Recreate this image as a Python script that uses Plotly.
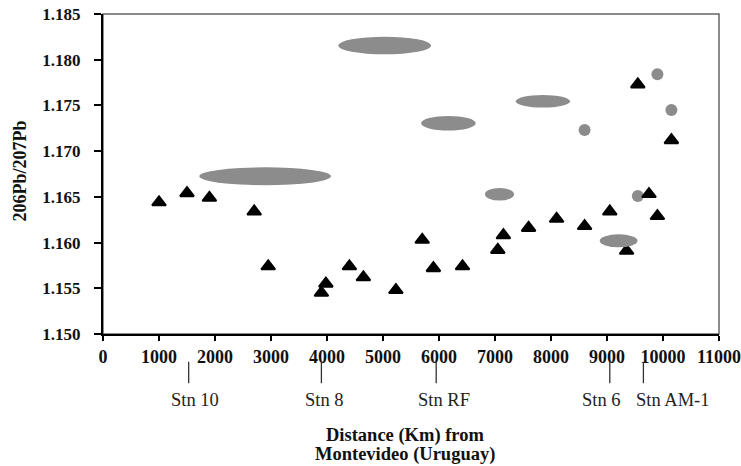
import plotly.graph_objects as go

# ---- data ----
tri_x = [1000, 1500, 1900, 2700, 2950, 3900, 3980, 4400, 4650, 5230, 5700, 5900,
         6420, 7050, 7150, 7600, 8100, 8600, 9050, 9350, 9550, 9750, 9900, 10150]
tri_y = [1.1644, 1.1654, 1.1649, 1.1634, 1.1574, 1.1545, 1.1555, 1.1574, 1.1562,
         1.1548, 1.1603, 1.1572, 1.1574, 1.1592, 1.1608, 1.1616, 1.1626, 1.1618,
         1.1634, 1.1591, 1.1773, 1.1653, 1.1629, 1.1712]

circ_x = [9900, 10150, 8600, 9550]
circ_y = [1.1784, 1.1745, 1.1723, 1.1651]

# ellipses: distance range (min, max), ratio centre, ratio half-uncertainty
ell_xmin = [1720, 4200, 7370, 5680, 6820, 8870]
ell_xmax = [4070, 5860, 8340, 6655, 7340, 9545]
ell_y = [1.16725, 1.18155, 1.17545, 1.17305, 1.16528, 1.16019]
ell_dy = [0.00098, 0.00096, 0.00069, 0.00080, 0.00069, 0.00071]

stn_names = ["Stn 10", "Stn 8", "Stn RF", "Stn 6", "Stn AM-1"]
stn_x = [1530, 3900, 5950, 9050, 9650]
stn_label_x = [1650, 3955, 6095, 8905, 10180]

x_ticks = list(range(0, 11001, 1000))
y_ticks = [1.150, 1.155, 1.160, 1.165, 1.170, 1.175, 1.180, 1.185]

GRAY = "#8c8c8c"
SERIF = "Liberation Serif, Times New Roman, serif"

fig = go.Figure()
fig.add_trace(go.Scatter(x=circ_x, y=circ_y, mode="markers",
                         marker=dict(symbol="circle", size=12, color=GRAY, line=dict(width=0)),
                         showlegend=False))
fig.add_trace(go.Scatter(x=tri_x, y=tri_y, mode="markers",
                         marker=dict(symbol="triangle-up", size=12, color="black",
                                     line=dict(width=2, color="black")),
                         showlegend=False))

shapes = []
# gray frame (top/right)
shapes.append(dict(type="rect", xref="paper", yref="paper", x0=0, x1=1, y0=0, y1=1,
                   line=dict(color="#666666", width=1.5), layer="below"))
for x0, x1, yc, dy in zip(ell_xmin, ell_xmax, ell_y, ell_dy):
    shapes.append(dict(type="circle", xref="x", yref="y", x0=x0, x1=x1, y0=yc - dy, y1=yc + dy,
                       fillcolor=GRAY, line=dict(width=0), layer="above"))
for sx in stn_x:
    shapes.append(dict(type="line", xref="x", yref="paper", x0=sx, x1=sx, y0=-0.087, y1=-0.154,
                       line=dict(color="#333333", width=1.3)))

annotations = []
for name, lx in zip(stn_names, stn_label_x):
    annotations.append(dict(x=lx, y=-0.206, xref="x", yref="paper", text=name, showarrow=False,
                            xanchor="center", yanchor="middle",
                            font=dict(family=SERIF, size=18.5, color="#222222")))
annotations.append(dict(x=0.490, y=-0.316, xref="paper", yref="paper", text="<b>Distance (Km) from</b>",
                        showarrow=False, xanchor="center", yanchor="middle",
                        font=dict(family=SERIF, size=18.5, color="#111111")))
annotations.append(dict(x=0.490, y=-0.378, xref="paper", yref="paper", text="<b>Montevideo (Uruguay)</b>",
                        showarrow=False, xanchor="center", yanchor="middle",
                        font=dict(family=SERIF, size=18.5, color="#111111")))
annotations.append(dict(x=-0.134, y=0.509, xref="paper", yref="paper", text="<b>206Pb/207Pb</b>",
                        showarrow=False, textangle=-90, xanchor="center", yanchor="middle",
                        font=dict(family=SERIF, size=18, color="#111111")))

fig.update_layout(
    width=741, height=466,
    margin=dict(l=103, r=22, t=14, b=132, autoexpand=False),
    paper_bgcolor="white", plot_bgcolor="white",
    shapes=shapes, annotations=annotations,
    showlegend=False,
)
fig.update_xaxes(range=[0, 11000], tickvals=x_ticks, ticktext=[str(v) for v in x_ticks],
                 automargin=False, ticklabeloverflow="allow",
                 showgrid=False, zeroline=False, showline=True, linecolor="black", linewidth=2,
                 ticks="outside", ticklen=5, tickwidth=1.5, tickcolor="black",
                 tickfont=dict(family=SERIF, size=18, color="#111111", weight="bold"))
fig.update_yaxes(range=[1.150, 1.185], tickvals=y_ticks, ticktext=[f"{v:.3f}" for v in y_ticks],
                 automargin=False, ticklabeloverflow="allow",
                 showgrid=False, zeroline=False, showline=True, linecolor="black", linewidth=2,
                 ticks="outside", ticklen=7, tickwidth=1.5, tickcolor="black",
                 ticklabelstandoff=10,
                 tickfont=dict(family=SERIF, size=17, color="#111111", weight="bold"))

fig.write_html("out.html", config={"displayModeBar": False},
               post_script="document.body.style.margin='0';document.body.style.padding='0';")
